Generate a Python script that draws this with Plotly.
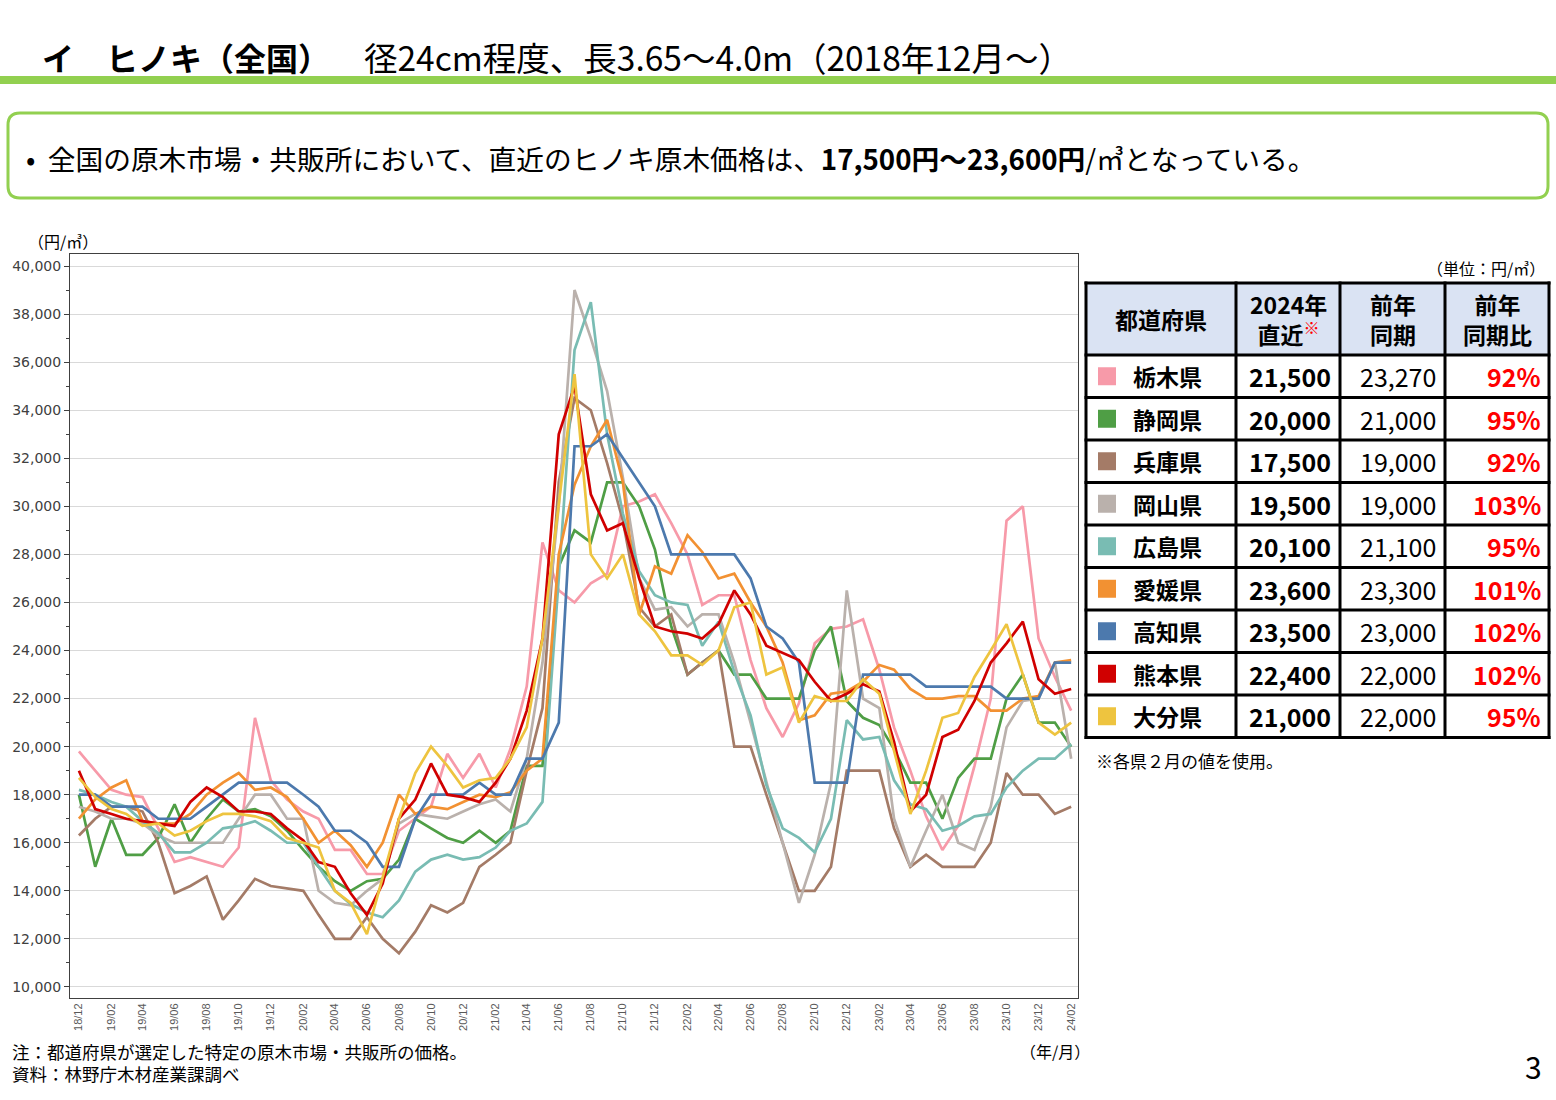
import plotly.graph_objects as go

W, H = 1556, 1100
JP = "Noto Sans CJK JP"

# ---------------- data ----------------
months = []
_y, _m = 2018, 12
for _ in range(63):
    months.append(f"{_y}-{_m:02d}-15")
    _m += 1
    if _m > 12:
        _m = 1
        _y += 1

prefectures = ["栃木県", "静岡県", "兵庫県", "岡山県", "広島県", "愛媛県", "高知県", "熊本県", "大分県"]
colors = ["#f79aa9", "#4f9e45", "#a47b67", "#bab1ac", "#79bcb3", "#f29132", "#4c79ad", "#d00000", "#eec43f"]

tochigi = [19800, 19000, 18200, 18000, 17900, 16600, 15200, 15400, 15200, 15000, 15800, 21200, 18600, 17800, 17300, 17000, 15700,
           15700, 14700, 14700, 16500, 17000, 17500, 19700, 18700, 19700, 18300, 19900, 22500, 28500,
           26500, 26000, 26800, 27200, 30000, 30200, 30500,
           29300, 28000, 25900, 26300, 26300, 23600, 21600, 20400, 21800, 24300, 24900, 25000, 25300, 23200,
           20800, 19000, 17100, 15700, 16700, 19200, 22000, 29400, 30000, 24500, 22900, 21500]
shizuoka = [18000, 15000, 17000, 15500, 15500, 16200, 17600, 16000, 17000, 17800, 17300, 17400, 17100, 16500, 15700, 15000, 14400,
            14000, 14400, 14500, 15300, 17000, 16600, 16200, 16000, 16500, 16000, 16500, 19200, 19200,
            27500, 29000, 28500, 31000, 31000, 30000, 28200,
            25000, 23000, 23500, 24000, 23000, 23000, 22000, 22000, 22000, 24000, 25000, 21900, 21200, 20900,
            19900, 18500, 18500, 17000, 18700, 19500, 19500, 22000, 23000, 21000, 21000, 20000]
hyogo = [16300, 17000, 17500, 17500, 17300, 16000, 13900, 14200, 14600, 12800, 13600, 14500, 14200, 14100, 14000, 13000, 12000,
         12000, 12900, 12000, 11400, 12300, 13400, 13100, 13500, 15000, 15500, 16000, 19000, 21600,
         31000, 34500, 34000, 31800, 29400, 25800, 25000,
         25500, 23000, 23500, 24000, 20000, 20000, 18000, 16000, 14000, 14000, 15000, 19000, 19000, 19000,
         16600, 15000, 15500, 15000, 15000, 15000, 16000, 18900, 18000, 18000, 17200, 17500]
okayama = [17500, 17300, 17000, 17000, 16800, 16300, 16000, 16000, 16000, 16000, 17000, 18000, 18000, 17000, 17000, 14000, 13500,
           13400, 14000, 14500, 16800, 17200, 17100, 17000, 17300, 17600, 17800, 17300, 19500, 23500,
           30000, 39000, 37000, 34800, 31200, 27000, 25700,
           25800, 25000, 25500, 25500, 23500, 21000, 18500, 16000, 13500, 15500, 18500, 26500, 22000, 21600,
           17000, 15000, 16500, 18000, 16000, 15700, 17500, 20800, 21900, 22000, 23500, 19500]
hiroshima = [18200, 18000, 17700, 17500, 16900, 16400, 15600, 15600, 16000, 16600, 16700, 16900, 16500, 16000, 16000, 15000, 14000,
             13450, 13100, 12900, 13600, 14800, 15300, 15500, 15300, 15400, 15800, 16500, 16800, 17700,
             27000, 36500, 38500, 33000, 29700, 27300, 26300,
             26000, 25900, 24200, 25200, 23100, 21300, 18400, 16600, 16200, 15600, 17000, 21100, 20300, 20400,
             18600, 17600, 17400, 16500, 16700, 17100, 17200, 18300, 19000, 19500, 19500, 20100]
ehime = [17000, 17800, 18300, 18600, 16900, 16800, 16800, 17200, 18000, 18500, 18900, 18200, 18300, 17900, 17000, 16000, 16500,
         15900, 15000, 16000, 18000, 17200, 17500, 17400, 17700, 18000, 17900, 18100, 19000, 19500,
         28000, 30900, 32500, 33600, 31000, 25500, 27500,
         27200, 28800, 28100, 27000, 27200, 26000, 25000, 23500, 21100, 21300, 22200, 22300, 22700, 23400,
         23200, 22400, 22000, 22000, 22100, 22100, 21500, 21500, 22000, 22100, 23500, 23600]
kochi = [18000, 18000, 17500, 17500, 17500, 17000, 17000, 17000, 17500, 18000, 18500, 18500, 18500, 18500, 18000, 17500, 16500,
         16500, 16000, 15000, 15000, 17000, 18000, 18000, 18000, 18500, 18000, 18000, 19500, 19500,
         21000, 32500, 32500, 33000, 32000, 31000, 30000,
         28000, 28000, 28000, 28000, 28000, 27000, 25000, 24500, 23500, 18500, 18500, 18500, 23000, 23000,
         23000, 23000, 22500, 22500, 22500, 22500, 22500, 22000, 22000, 22000, 23500, 23500]
kumamoto = [19000, 17400, 17200, 17000, 16900, 16800, 16700, 17700, 18300, 17900, 17300, 17300, 17200, 16600, 16100, 15200, 15000,
            13900, 13000, 14300, 17000, 17800, 19300, 18000, 17900, 17700, 18500, 19500, 21500, 24500,
            33000, 35000, 30500, 29000, 29300, 27000, 25000,
            24800, 24700, 24500, 25100, 26500, 25500, 24200, 23900, 23600, 22700, 21900, 22200, 22600, 22300,
            20200, 17300, 18000, 20400, 20700, 21900, 23500, 24300, 25200, 22800, 22200, 22400]
oita = [18700, 17900, 17400, 17200, 16700, 16800, 16300, 16500, 16900, 17200, 17200, 17100, 16900, 16200, 16000, 15800, 14000,
        13500, 12200, 14600, 17000, 18900, 20000, 19200, 18300, 18600, 18700, 19500, 20800, 24500,
        30000, 35500, 28000, 27000, 28000, 25500, 24800,
        23800, 23800, 23400, 24000, 25800, 26000, 23000, 23300, 21000, 22100, 21900, 21900, 22800, 22200,
        19800, 17200, 19000, 21200, 21400, 22900, 24000, 25100, 23000, 21000, 20500, 21000]

series = [tochigi, shizuoka, hyogo, okayama, hiroshima, ehime, kochi, kumamoto, oita]

latest_2024 = [21500, 20000, 17500, 19500, 20100, 23600, 23500, 22400, 21000]
same_period_last_year = [23270, 21000, 19000, 19000, 21100, 23300, 23000, 22000, 22000]
yoy_ratio = [92, 95, 92, 103, 95, 101, 102, 102, 95]
table_header = ["<b>都道府県</b>",
                "<b>2024年<br>直近</b><span style='color:#ff0000'><sup>※</sup></span>",
                "<b>前年<br>同期</b>",
                "<b>前年<br>同期比</b>"]


# ---------------- helpers (pixel -> paper) ----------------
def px(x):
    return x / W


def py(y):
    return 1 - y / H


fig = go.Figure()
for name, vals, col in zip(prefectures, series, colors):
    fig.add_trace(go.Scatter(x=months, y=vals, mode="lines", name=name,
                             line=dict(color=col, width=2.7), showlegend=False))

fig.update_layout(
    width=W, height=H, margin=dict(l=0, r=0, t=0, b=0),
    paper_bgcolor="white", plot_bgcolor="white",
    font=dict(family=JP, color="black"),
    xaxis=dict(domain=[px(70), px(1078)], type="date",
               range=["2018-11-28", "2024-02-28"],
               tickvals=months[::2], tickformat="%y/%m", tickangle=-90,
               tickfont=dict(size=11, color="#595959", family="Liberation Sans"),
               showgrid=False, ticks="", showline=True, mirror=True,
               linecolor="#404040", linewidth=1, automargin=False),
    yaxis=dict(domain=[py(998), py(254)], range=[9540, 40500],
               tick0=10000, dtick=2000, tickformat=",d",
               tickfont=dict(size=14, color="#404040", family="DejaVu Sans"),
               gridcolor="#d9d9d9", gridwidth=1, zeroline=False,
               ticks="outside", ticklen=5, tickcolor="#404040",
               minor=dict(dtick=1000, ticks="outside", ticklen=3, tickcolor="#404040", showgrid=False),
               showline=True, mirror=True, linecolor="#404040", linewidth=1, automargin=False),
)

shapes = []
# green bar and rounded box
shapes.append(dict(type="rect", xref="paper", yref="paper", x0=0, x1=1, y0=py(84), y1=py(76),
                   fillcolor="#92d050", line=dict(width=0)))
bx0, bx1, by0, by1, r = 8, 1548, 113, 198, 12
path = (f"M {px(bx0 + r)} {py(by0)} L {px(bx1 - r)} {py(by0)} "
        f"Q {px(bx1)} {py(by0)} {px(bx1)} {py(by0 + r)} L {px(bx1)} {py(by1 - r)} "
        f"Q {px(bx1)} {py(by1)} {px(bx1 - r)} {py(by1)} L {px(bx0 + r)} {py(by1)} "
        f"Q {px(bx0)} {py(by1)} {px(bx0)} {py(by1 - r)} L {px(bx0)} {py(by0 + r)} "
        f"Q {px(bx0)} {py(by0)} {px(bx0 + r)} {py(by0)} Z")
shapes.append(dict(type="path", xref="paper", yref="paper", path=path,
                   line=dict(color="#92d050", width=3), fillcolor="rgba(0,0,0,0)"))


def note(x, y, text, size, anchor="left", color="black", family=JP):
    fig.add_annotation(x=px(x), y=py(y), xref="paper", yref="paper", text=text,
                       showarrow=False, xanchor=anchor, yanchor="middle",
                       font=dict(size=size, color=color, family=family))


# ---------------- table (shapes + annotations) ----------------
col_edges = [1086, 1236, 1340, 1445, 1549]
head_top, head_bot, row_h = 283, 355, 42.5
row_edges = [head_bot + row_h * k for k in range(len(prefectures) + 1)]
tbot = row_edges[-1]
shapes.append(dict(type="rect", xref="paper", yref="paper", x0=px(col_edges[0]), x1=px(col_edges[-1]),
                   y0=py(head_bot), y1=py(head_top), fillcolor="#dae3f3", line=dict(width=0), layer="below"))
for xe in col_edges:
    shapes.append(dict(type="line", xref="paper", yref="paper", x0=px(xe), x1=px(xe),
                       y0=py(head_top - 1.5), y1=py(tbot + 1.5), line=dict(color="black", width=3)))
for ye in [head_top] + row_edges:
    shapes.append(dict(type="line", xref="paper", yref="paper", x0=px(col_edges[0] - 1.5),
                       x1=px(col_edges[-1] + 1.5), y0=py(ye), y1=py(ye), line=dict(color="black", width=3)))

hc = (head_top + head_bot) / 2
for k, txt in enumerate(table_header):
    cx = (col_edges[k] + col_edges[k + 1]) / 2
    note(cx, hc, txt, 23, anchor="center")

for k, (p, c) in enumerate(zip(prefectures, colors)):
    yc = (row_edges[k] + row_edges[k + 1]) / 2
    shapes.append(dict(type="rect", xref="paper", yref="paper", x0=px(1098), x1=px(1116),
                       y0=py(yc + 9), y1=py(yc - 9), fillcolor=c, line=dict(width=0)))
    note(1131, yc, f"<b>{p}</b>", 23)
    note(col_edges[2] - 7, yc, f"<b>{latest_2024[k]:,}</b>", 25, anchor="right")
    note(col_edges[3] - 7, yc, f"{same_period_last_year[k]:,}", 25, anchor="right")
    note(col_edges[4] - 6, yc, f"<b>{yoy_ratio[k]}%</b>", 25, anchor="right", color="#ff0000")

fig.update_layout(shapes=shapes)

note(40, 57, "<b>イ　ヒノキ（全国）</b>", 32)
note(362, 57, "径24cm程度、長3.65～4.0m（2018年12月～）", 33.5)
note(24, 158, "•  全国の原木市場・共販所において、直近のヒノキ原木価格は、<b>17,500円～23,600円</b>/㎥となっている。", 27.7)
note(26, 241, "（円/㎥）", 16)
note(1092, 1051, "（年/月）", 16, anchor="right")
note(10, 1051, "注：都道府県が選定した特定の原木市場・共販所の価格。", 17.5)
note(10, 1073, "資料：林野庁木材産業課調べ", 17.5)
note(1547, 268, "（単位：円/㎥）", 16, anchor="right")
note(1094, 760, "※各県２月の値を使用。", 17)
note(1544, 1066, "3", 30, anchor="right")

fig.write_html("out.html")
